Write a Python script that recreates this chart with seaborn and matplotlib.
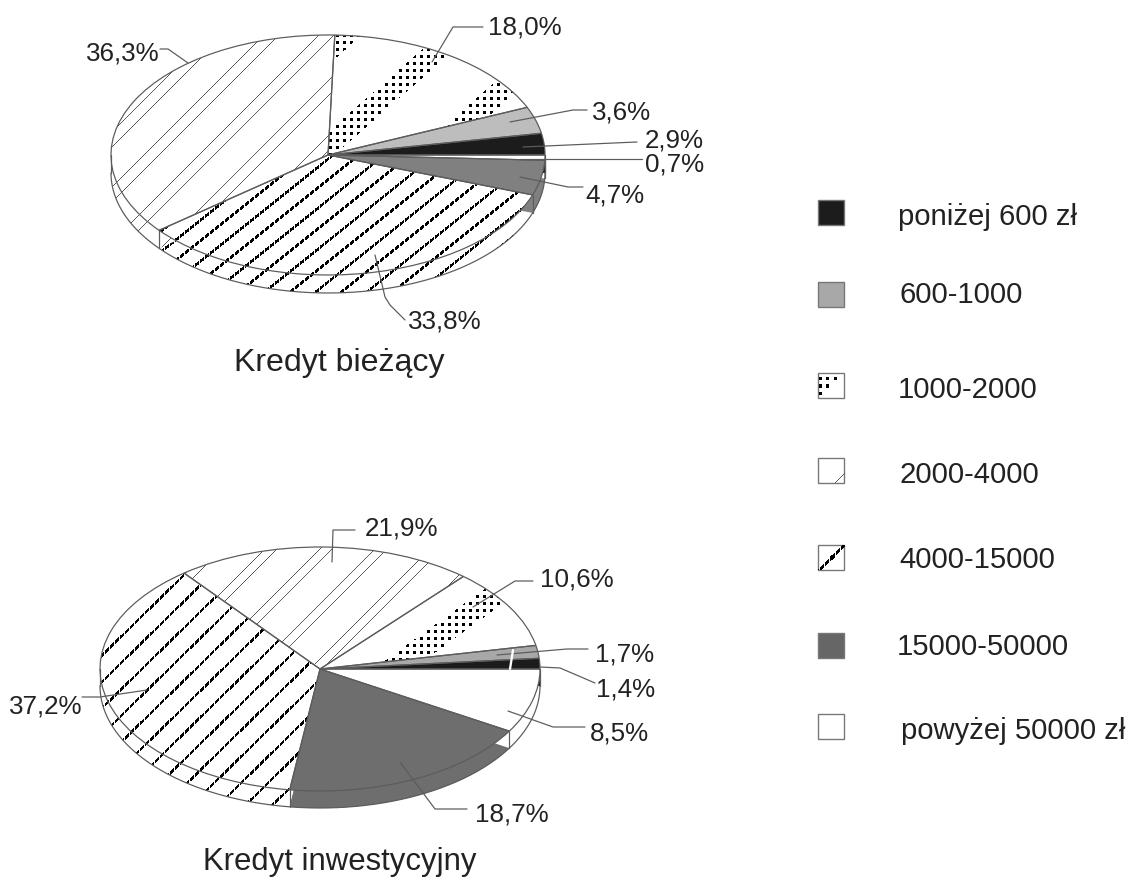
import numpy as np
import matplotlib
matplotlib.use('Agg')
import matplotlib.pyplot as plt
from matplotlib.patches import Rectangle
import seaborn as sns

# shares in the order of the legend, going counter clockwise from 3 o'clock
categories = ['poniżej 600 zł', '600-1000', '1000-2000', '2000-4000',
              '4000-15000', '15000-50000', 'powyżej 50000 zł']
biezacy = [2.9, 3.6, 18.0, 36.3, 33.8, 4.7, 0.7]
inwestycyjny = [1.4, 1.7, 10.6, 21.9, 37.2, 18.7, 8.5]
labels_biezacy = ['2,9%', '3,6%', '18,0%', '36,3%', '33,8%', '4,7%', '0,7%']
labels_inwest = ['1,4%', '1,7%', '10,6%', '21,9%', '37,2%', '18,7%', '8,5%']
title_biezacy = 'Kredyt bieżący'
title_inwest = 'Kredyt inwestycyjny'

W, H = 1137, 877
DPI = 110
LINE = '#5c5c5c'
TEXT = '#222222'

sns.set_theme(style='white', rc={'font.family': ['Liberation Sans', 'DejaVu Sans']})

X, Y = np.meshgrid(np.arange(W), np.arange(H))


def texture(kind, off, k=1.0, period=18, sep=15, width=30):
    s = k * X + Y - off
    if kind == 'thin':
        mask = (s % 55 < 1.0) | ((s - sep) % 55 < 1.0)
        col = 0.35
    elif kind == 'thick':
        mask = (s % period < 3.4) & (X % 5 < 4)
        col = 0.0
    else:
        mask = (s % period < width) & (X % 7 < 3) & (Y % 7 < 3)
        col = 0.0
    img = np.full((H, W, 4), col, dtype=float)
    img[..., 3] = mask
    return img


def pie_layer(ax, values, fills, off, edge=False):
    props = {'linewidth': 0.8, 'edgecolor': LINE} if edge else {'linewidth': 0}
    wedges, _ = ax.pie(values, colors=fills, startangle=0, counterclock=True,
                       center=(0, -off), radius=1, wedgeprops=props)
    return wedges


def draw_pie(values, fills, textures, cx, cy, rx, ry, depth):
    ax = fig.add_axes([0, 0, 1, 1])
    ax.patch.set_alpha(0)
    lims = (-cx / rx, (W - cx) / rx, -(H - cy) / ry, cy / ry)
    d = depth / ry

    # side wall: the same pie stacked downwards
    for off in np.arange(depth, 0, -1) / ry:
        for w in pie_layer(ax, values, fills, off):
            w.set_zorder(1)

    # the wall keeps the pattern of its slice
    for layer, off in enumerate([d, 0]):
        wedges = pie_layer(ax, values, fills, off, edge=False)
        for w in wedges:
            w.set_zorder(2 + 2 * layer)
        for i, tex in textures.items():
            im = ax.imshow(tex, extent=lims, origin='upper', aspect='auto',
                           interpolation='nearest', zorder=3 + 2 * layer)
            im.set_clip_path(wedges[i])

    for w in pie_layer(ax, values, ['none'] * len(values), 0, edge=True):
        w.set_zorder(6)

    # rim outline and the vertical edges of the slices on the wall
    t = np.linspace(np.pi, 2 * np.pi, 300)
    ax.plot(np.cos(t), np.sin(t) - d, color=LINE, lw=0.8, zorder=6)
    edges = np.cumsum(values) / np.sum(values) * 2 * np.pi
    for a in list(edges) + [np.pi]:
        if np.sin(a) <= 1e-9:
            ax.plot([np.cos(a)] * 2, [np.sin(a), np.sin(a) - d], color=LINE,
                    lw=0.8, zorder=6)

    ax.set_aspect('auto')
    ax.set_xlim(lims[0], lims[1])
    ax.set_ylim(lims[2], lims[3])
    ax.set_axis_off()


fig = plt.figure(figsize=((W + 0.01) / DPI, (H + 0.01) / DPI), dpi=DPI, facecolor='white')

draw_pie(biezacy,
         ['#1c1c1c', '#bdbdbd', 'white', 'white', 'white', '#808080', 'white'],
         {2: texture('dots', 419, k=0.875, period=96, width=29),
          3: texture('thin', 24, sep=15),
          4: texture('thick', 420, k=0.8, period=20.5)},
         328, 155, 217, 120, 18)

draw_pie(inwestycyjny,
         ['#1c1c1c', '#a8a8a8', 'white', 'white', 'white', '#6e6e6e', 'white'],
         {2: texture('dots', 937, k=0.72, period=96, width=28),
          3: texture('thin', 43, sep=12),
          4: texture('thick', 779, k=0.98, period=26.4)},
         320, 669, 220, 122, 17)

# overlay in pixel coordinates for labels, leaders and the legend
top = fig.add_axes([0, 0, 1, 1], zorder=5)
top.patch.set_alpha(0)
top.set_xlim(0, W)
top.set_ylim(H, 0)
top.set_axis_off()

label_pos = {
    '18,0%': (488, 27), '36,3%': (86, 53), '3,6%': (592, 112), '2,9%': (645, 140),
    '0,7%': (645, 164), '4,7%': (585, 195), '33,8%': (408, 321),
    '21,9%': (365, 528), '10,6%': (540, 579), '1,7%': (595, 654), '1,4%': (596, 689),
    '8,5%': (590, 733), '18,7%': (475, 814), '37,2%': (9, 706),
}
leaders = [
    [(160, 49), (168, 49), (188, 63)],
    [(483, 27), (453, 27), (432, 62)],
    [(587, 110), (573, 110), (510, 122)],
    [(637, 142), (523, 147)],
    [(642, 159), (520, 159)],
    [(583, 187), (568, 187), (520, 177)],
    [(375, 255), (385, 297), (390, 305), (405, 320)],
    [(355, 530), (333, 530), (332, 562)],
    [(533, 581), (515, 581), (473, 607)],
    [(588, 649), (567, 649), (497, 655)],
    [(595, 683), (560, 668), (540, 667)],
    [(585, 727), (553, 727), (508, 711)],
    [(467, 809), (435, 809), (400, 762)],
    [(82, 697), (100, 697), (147, 690)],
]
for pts in leaders:
    xs, ys = zip(*pts)
    top.plot(xs, ys, color=LINE, lw=0.8)
top.plot([513, 510], [650, 669], color='white', lw=1.5)

for lab in labels_biezacy + labels_inwest:
    px, py = label_pos[lab]
    top.text(px, py, lab, fontsize=26 * 72 / DPI, color=TEXT, ha='left', va='center')

top.text(234, 363, title_biezacy, fontsize=32.2 * 72 / DPI, color=TEXT, ha='left', va='center')
top.text(203, 862, title_inwest, fontsize=31.2 * 72 / DPI, color=TEXT, ha='left', va='center')

# legend is hand placed, its rows are not evenly spaced
swatch_y = [200, 282, 373, 458, 545, 633, 714]
text_y = [217, 295, 390, 475, 560, 647, 731]
text_x = [898, 899, 898, 899, 899, 897, 901]
swatch_fill = ['#1c1c1c', '#a8a8a8', 'white', 'white', 'white', '#666666', 'white']
swatch_tex = {2: texture('dots', 1191, k=1.0, period=400, width=25),
              3: texture('thin', 1316 % 55, sep=12),
              4: texture('thick', 1387 % 400, k=1.0, period=400)}
for i, name in enumerate(categories):
    rect = Rectangle((818, swatch_y[i]), 26, 25, facecolor=swatch_fill[i],
                     edgecolor='#777777', lw=0.9)
    top.add_patch(rect)
    if i in swatch_tex:
        im = top.imshow(swatch_tex[i], extent=(0, W, H, 0), origin='upper', aspect='auto',
                        interpolation='nearest', zorder=3)
        im.set_clip_path(rect)
    top.text(text_x[i], text_y[i], name, fontsize=29.2 * 72 / DPI, color=TEXT, ha='left', va='center')
top.set_xlim(0, W)
top.set_ylim(H, 0)

fig.savefig('out.png', dpi=DPI, facecolor='white')
